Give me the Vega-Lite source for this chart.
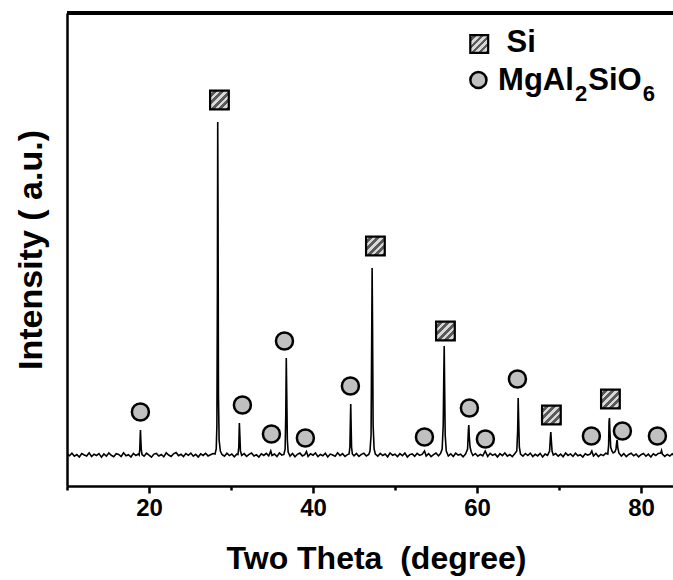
{
  "$schema": "https://vega.github.io/schema/vega-lite/v6.json",
  "width": 606,
  "height": 473,
  "autosize": "none",
  "padding": {"left": 67, "top": 13, "right": 0, "bottom": 94},
  "background": "white",
  "config": {"view": {"stroke": null}, "font": "Liberation Sans"},
  "datasets": {
    "pattern": [
      {"theta": 10.0, "intensity": 10}, {"theta": 10.3, "intensity": -8}, {"theta": 10.6, "intensity": 18}, {"theta": 10.9, "intensity": -12},
      {"theta": 11.2, "intensity": 4}, {"theta": 11.5, "intensity": -20}, {"theta": 11.8, "intensity": 15}, {"theta": 12.1, "intensity": 0},
      {"theta": 12.4, "intensity": -10}, {"theta": 12.7, "intensity": 22}, {"theta": 13.0, "intensity": -15}, {"theta": 13.3, "intensity": 8},
      {"theta": 13.6, "intensity": -5}, {"theta": 13.9, "intensity": 14}, {"theta": 14.2, "intensity": -22}, {"theta": 14.5, "intensity": 10},
      {"theta": 14.8, "intensity": -12}, {"theta": 15.1, "intensity": 20}, {"theta": 15.4, "intensity": -3}, {"theta": 15.7, "intensity": -18},
      {"theta": 16.0, "intensity": 13}, {"theta": 16.3, "intensity": 5}, {"theta": 16.6, "intensity": -15}, {"theta": 16.9, "intensity": 22},
      {"theta": 17.2, "intensity": -8}, {"theta": 17.5, "intensity": 3}, {"theta": 17.8, "intensity": -20}, {"theta": 18.1, "intensity": 16},
      {"theta": 18.4, "intensity": -5}, {"theta": 18.7, "intensity": 10},
      {"theta": 18.8, "intensity": 0}, {"theta": 18.88, "intensity": 60}, {"theta": 18.93, "intensity": 200}, {"theta": 18.96, "intensity": 250},
      {"theta": 19.0, "intensity": 160}, {"theta": 19.06, "intensity": 50}, {"theta": 19.15, "intensity": 5},
      {"theta": 19.4, "intensity": -12}, {"theta": 19.7, "intensity": 18}, {"theta": 20.0, "intensity": -2}, {"theta": 20.3, "intensity": -22},
      {"theta": 20.6, "intensity": 9}, {"theta": 20.9, "intensity": 16}, {"theta": 21.2, "intensity": -10}, {"theta": 21.5, "intensity": 5},
      {"theta": 21.8, "intensity": -18}, {"theta": 22.1, "intensity": 22}, {"theta": 22.4, "intensity": 0}, {"theta": 22.7, "intensity": -14},
      {"theta": 23.0, "intensity": 12}, {"theta": 23.3, "intensity": 25}, {"theta": 23.6, "intensity": -6}, {"theta": 23.9, "intensity": 8},
      {"theta": 24.2, "intensity": -16}, {"theta": 24.5, "intensity": 14}, {"theta": 24.8, "intensity": -3}, {"theta": 25.1, "intensity": 19},
      {"theta": 25.4, "intensity": -12}, {"theta": 25.7, "intensity": 6}, {"theta": 26.0, "intensity": -20}, {"theta": 26.3, "intensity": 11},
      {"theta": 26.6, "intensity": -4}, {"theta": 26.9, "intensity": 17}, {"theta": 27.2, "intensity": -9}, {"theta": 27.5, "intensity": 3},
      {"theta": 27.8, "intensity": 15},
      {"theta": 28.05, "intensity": 10}, {"theta": 28.2, "intensity": 60}, {"theta": 28.28, "intensity": 300}, {"theta": 28.34, "intensity": 1600},
      {"theta": 28.38, "intensity": 3330}, {"theta": 28.42, "intensity": 2400}, {"theta": 28.47, "intensity": 600}, {"theta": 28.55, "intensity": 150},
      {"theta": 28.7, "intensity": 40}, {"theta": 28.9, "intensity": 5},
      {"theta": 29.2, "intensity": -12}, {"theta": 29.5, "intensity": 18}, {"theta": 29.8, "intensity": -6}, {"theta": 30.1, "intensity": 10},
      {"theta": 30.4, "intensity": -18}, {"theta": 30.7, "intensity": 8},
      {"theta": 30.85, "intensity": 5}, {"theta": 30.95, "intensity": 80}, {"theta": 31.02, "intensity": 320}, {"theta": 31.08, "intensity": 200},
      {"theta": 31.15, "intensity": 40}, {"theta": 31.3, "intensity": -5},
      {"theta": 31.6, "intensity": 14}, {"theta": 31.9, "intensity": -14}, {"theta": 32.2, "intensity": 6}, {"theta": 32.5, "intensity": 20},
      {"theta": 32.8, "intensity": -10}, {"theta": 33.1, "intensity": 2}, {"theta": 33.4, "intensity": -20}, {"theta": 33.7, "intensity": 12},
      {"theta": 34.0, "intensity": -4}, {"theta": 34.3, "intensity": 16}, {"theta": 34.6, "intensity": -8}, {"theta": 34.85, "intensity": 40},
      {"theta": 35.0, "intensity": -5}, {"theta": 35.3, "intensity": 10}, {"theta": 35.6, "intensity": -16}, {"theta": 35.9, "intensity": 20},
      {"theta": 36.2, "intensity": -2}, {"theta": 36.45, "intensity": 5},
      {"theta": 36.6, "intensity": 60}, {"theta": 36.68, "intensity": 400}, {"theta": 36.74, "intensity": 970}, {"theta": 36.8, "intensity": 600},
      {"theta": 36.87, "intensity": 150}, {"theta": 36.97, "intensity": 30},
      {"theta": 37.2, "intensity": -10}, {"theta": 37.5, "intensity": 15}, {"theta": 37.8, "intensity": -18}, {"theta": 38.1, "intensity": 7},
      {"theta": 38.4, "intensity": 19}, {"theta": 38.7, "intensity": -9}, {"theta": 39.0, "intensity": 3}, {"theta": 39.2, "intensity": 35},
      {"theta": 39.4, "intensity": -14}, {"theta": 39.7, "intensity": 12}, {"theta": 40.0, "intensity": -2}, {"theta": 40.3, "intensity": 20},
      {"theta": 40.6, "intensity": -16}, {"theta": 40.9, "intensity": 5}, {"theta": 41.2, "intensity": -8}, {"theta": 41.5, "intensity": 17},
      {"theta": 41.8, "intensity": -20}, {"theta": 42.1, "intensity": 9}, {"theta": 42.4, "intensity": 0}, {"theta": 42.7, "intensity": -12},
      {"theta": 43.0, "intensity": 22}, {"theta": 43.3, "intensity": -6}, {"theta": 43.6, "intensity": 13}, {"theta": 43.9, "intensity": -15},
      {"theta": 44.2, "intensity": 4}, {"theta": 44.4, "intensity": 10},
      {"theta": 44.5, "intensity": 80}, {"theta": 44.56, "intensity": 350}, {"theta": 44.6, "intensity": 510}, {"theta": 44.64, "intensity": 330},
      {"theta": 44.7, "intensity": 80}, {"theta": 44.8, "intensity": 10},
      {"theta": 45.0, "intensity": -8}, {"theta": 45.3, "intensity": 15}, {"theta": 45.6, "intensity": -14}, {"theta": 45.9, "intensity": 6},
      {"theta": 46.2, "intensity": 18}, {"theta": 46.5, "intensity": -10}, {"theta": 46.8, "intensity": 5},
      {"theta": 46.95, "intensity": 40}, {"theta": 47.08, "intensity": 200}, {"theta": 47.16, "intensity": 1200}, {"theta": 47.21, "intensity": 1870},
      {"theta": 47.26, "intensity": 1300}, {"theta": 47.33, "intensity": 300}, {"theta": 47.45, "intensity": 60}, {"theta": 47.6, "intensity": 10},
      {"theta": 47.9, "intensity": -12}, {"theta": 48.2, "intensity": 16}, {"theta": 48.5, "intensity": -5}, {"theta": 48.8, "intensity": 10},
      {"theta": 49.1, "intensity": -18}, {"theta": 49.4, "intensity": 21}, {"theta": 49.7, "intensity": -3}, {"theta": 50.0, "intensity": 8},
      {"theta": 50.3, "intensity": -15}, {"theta": 50.6, "intensity": 13}, {"theta": 50.9, "intensity": -7}, {"theta": 51.2, "intensity": 19},
      {"theta": 51.5, "intensity": -20}, {"theta": 51.8, "intensity": 4}, {"theta": 52.1, "intensity": 11}, {"theta": 52.4, "intensity": -13},
      {"theta": 52.7, "intensity": 17}, {"theta": 53.0, "intensity": -4}, {"theta": 53.3, "intensity": 6}, {"theta": 53.6, "intensity": 40},
      {"theta": 53.8, "intensity": -10}, {"theta": 54.1, "intensity": 14}, {"theta": 54.4, "intensity": -16}, {"theta": 54.7, "intensity": 3},
      {"theta": 55.0, "intensity": 20}, {"theta": 55.3, "intensity": -8}, {"theta": 55.55, "intensity": 15},
      {"theta": 55.75, "intensity": 60}, {"theta": 55.88, "intensity": 300}, {"theta": 55.95, "intensity": 800}, {"theta": 56.0, "intensity": 1090},
      {"theta": 56.05, "intensity": 700}, {"theta": 56.12, "intensity": 200}, {"theta": 56.25, "intensity": 40},
      {"theta": 56.5, "intensity": -10}, {"theta": 56.8, "intensity": 12}, {"theta": 57.1, "intensity": -15}, {"theta": 57.4, "intensity": 18},
      {"theta": 57.7, "intensity": -2}, {"theta": 58.0, "intensity": 7}, {"theta": 58.3, "intensity": -18}, {"theta": 58.6, "intensity": 10},
      {"theta": 58.85, "intensity": 60}, {"theta": 58.95, "intensity": 250}, {"theta": 59.0, "intensity": 300}, {"theta": 59.06, "intensity": 180},
      {"theta": 59.15, "intensity": 80}, {"theta": 59.3, "intensity": 30},
      {"theta": 59.5, "intensity": -5}, {"theta": 59.8, "intensity": 15}, {"theta": 60.1, "intensity": -12}, {"theta": 60.4, "intensity": 6},
      {"theta": 60.7, "intensity": -8}, {"theta": 61.0, "intensity": 40}, {"theta": 61.3, "intensity": -14}, {"theta": 61.6, "intensity": 17},
      {"theta": 61.9, "intensity": -4}, {"theta": 62.2, "intensity": 9}, {"theta": 62.5, "intensity": -19}, {"theta": 62.8, "intensity": 13},
      {"theta": 63.1, "intensity": -6}, {"theta": 63.4, "intensity": 20}, {"theta": 63.7, "intensity": -11}, {"theta": 64.0, "intensity": 5},
      {"theta": 64.3, "intensity": -16}, {"theta": 64.6, "intensity": 12},
      {"theta": 64.85, "intensity": 40}, {"theta": 64.96, "intensity": 250}, {"theta": 65.02, "intensity": 570}, {"theta": 65.08, "intensity": 350},
      {"theta": 65.16, "intensity": 80}, {"theta": 65.3, "intensity": 10},
      {"theta": 65.6, "intensity": -12}, {"theta": 65.9, "intensity": 15}, {"theta": 66.2, "intensity": -5}, {"theta": 66.5, "intensity": 19},
      {"theta": 66.8, "intensity": -15}, {"theta": 67.1, "intensity": 7}, {"theta": 67.4, "intensity": -9}, {"theta": 67.7, "intensity": 16},
      {"theta": 68.0, "intensity": -20}, {"theta": 68.3, "intensity": 10}, {"theta": 68.6, "intensity": -3},
      {"theta": 68.85, "intensity": 40}, {"theta": 68.95, "intensity": 180}, {"theta": 69.0, "intensity": 230}, {"theta": 69.06, "intensity": 150},
      {"theta": 69.15, "intensity": 40}, {"theta": 69.3, "intensity": 0},
      {"theta": 69.6, "intensity": 14}, {"theta": 69.9, "intensity": -12}, {"theta": 70.2, "intensity": 8}, {"theta": 70.5, "intensity": -18},
      {"theta": 70.8, "intensity": 20}, {"theta": 71.1, "intensity": -4}, {"theta": 71.4, "intensity": 11}, {"theta": 71.7, "intensity": -14},
      {"theta": 72.0, "intensity": 17}, {"theta": 72.3, "intensity": -8}, {"theta": 72.6, "intensity": 3}, {"theta": 72.9, "intensity": -20},
      {"theta": 73.2, "intensity": 13}, {"theta": 73.5, "intensity": -2}, {"theta": 73.8, "intensity": 9}, {"theta": 74.0, "intensity": 40},
      {"theta": 74.2, "intensity": -10}, {"theta": 74.5, "intensity": 16}, {"theta": 74.8, "intensity": -15}, {"theta": 75.1, "intensity": 6},
      {"theta": 75.4, "intensity": -6}, {"theta": 75.7, "intensity": 18}, {"theta": 75.95, "intensity": 10},
      {"theta": 76.05, "intensity": 100}, {"theta": 76.1, "intensity": 330}, {"theta": 76.15, "intensity": 370}, {"theta": 76.2, "intensity": 250},
      {"theta": 76.3, "intensity": 80}, {"theta": 76.45, "intensity": 40}, {"theta": 76.6, "intensity": 20}, {"theta": 76.8, "intensity": 30},
      {"theta": 76.95, "intensity": 60}, {"theta": 77.05, "intensity": 140}, {"theta": 77.1, "intensity": 150}, {"theta": 77.15, "intensity": 80},
      {"theta": 77.3, "intensity": 20},
      {"theta": 77.6, "intensity": -10}, {"theta": 77.9, "intensity": 14}, {"theta": 78.2, "intensity": -16}, {"theta": 78.5, "intensity": 5},
      {"theta": 78.8, "intensity": 18}, {"theta": 79.1, "intensity": -8}, {"theta": 79.4, "intensity": 10}, {"theta": 79.7, "intensity": -18},
      {"theta": 80.0, "intensity": 3}, {"theta": 80.3, "intensity": 15}, {"theta": 80.6, "intensity": -12}, {"theta": 80.9, "intensity": 8},
      {"theta": 81.2, "intensity": -20}, {"theta": 81.5, "intensity": 12}, {"theta": 81.8, "intensity": -5}, {"theta": 82.1, "intensity": 16},
      {"theta": 82.4, "intensity": 20}, {"theta": 82.5, "intensity": 45}, {"theta": 82.6, "intensity": 10}, {"theta": 82.9, "intensity": -14},
      {"theta": 83.2, "intensity": 6}, {"theta": 83.5, "intensity": -10}, {"theta": 83.8, "intensity": 12}, {"theta": 84.0, "intensity": -5}
    ],
    "markers": [
      {"theta": 28.59, "intensity": 3550, "phase": "Si"},
      {"theta": 47.61, "intensity": 2090, "phase": "Si"},
      {"theta": 56.15, "intensity": 1240, "phase": "Si"},
      {"theta": 69.07, "intensity": 400, "phase": "Si"},
      {"theta": 76.27, "intensity": 560, "phase": "Si"},
      {"theta": 18.95, "intensity": 430, "phase": "MgAl2SiO6"},
      {"theta": 31.39, "intensity": 500, "phase": "MgAl2SiO6"},
      {"theta": 34.93, "intensity": 210, "phase": "MgAl2SiO6"},
      {"theta": 36.52, "intensity": 1140, "phase": "MgAl2SiO6"},
      {"theta": 39.07, "intensity": 170, "phase": "MgAl2SiO6"},
      {"theta": 44.56, "intensity": 690, "phase": "MgAl2SiO6"},
      {"theta": 53.59, "intensity": 180, "phase": "MgAl2SiO6"},
      {"theta": 59.07, "intensity": 470, "phase": "MgAl2SiO6"},
      {"theta": 61.02, "intensity": 160, "phase": "MgAl2SiO6"},
      {"theta": 64.93, "intensity": 760, "phase": "MgAl2SiO6"},
      {"theta": 73.95, "intensity": 190, "phase": "MgAl2SiO6"},
      {"theta": 77.73, "intensity": 240, "phase": "MgAl2SiO6"},
      {"theta": 82.0, "intensity": 190, "phase": "MgAl2SiO6"}
    ],
    "legend": [
      {"theta": 60.27, "intensity": 4110, "phase": "Si"},
      {"theta": 60.17, "intensity": 3750, "phase": "MgAl2SiO6"}
    ],
    "legendText": [
      {"theta": 63.6, "intensity": 4120, "text": "Si", "part": "main"},
      {"theta": 62.57, "intensity": 3740, "text": "MgAl", "part": "main"},
      {"theta": 71.96, "intensity": 3610, "text": "2", "part": "sub"},
      {"theta": 73.57, "intensity": 3740, "text": "SiO", "part": "main"},
      {"theta": 80.22, "intensity": 3610, "text": "6", "part": "sub"}
    ]
  },
  "layer": [
    {
      "data": {"name": "pattern"},
      "mark": {"type": "line", "color": "black", "strokeWidth": 1.6, "clip": true},
      "encoding": {
        "x": {
          "field": "theta", "type": "quantitative",
          "scale": {"domain": [10, 83.9], "nice": false, "zero": false},
          "axis": {
            "values": [20, 40, 60, 80], "grid": false,
            "domainColor": "black", "domainWidth": 2.5,
            "tickColor": "black", "tickWidth": 2.5, "tickSize": 7,
            "labelFont": "Liberation Sans", "labelFontSize": 24, "labelFontWeight": "bold", "labelColor": "black", "labelPadding": 3,
            "title": "Two Theta \u00a0(degree)", "titleFont": "Liberation Sans", "titleFontSize": 32, "titleFontWeight": "bold", "titleColor": "black",
            "titleX": 309, "titleY": 82, "titleBaseline": "alphabetic"
          }
        },
        "y": {
          "field": "intensity", "type": "quantitative",
          "scale": {"domain": [-310, 4420], "nice": false, "zero": false},
          "axis": {
            "ticks": false, "labels": false, "grid": false,
            "domainColor": "black", "domainWidth": 2.5,
            "title": "Intensity ( a.u.)", "titleFont": "Liberation Sans", "titleFontSize": 34, "titleFontWeight": "bold", "titleColor": "black",
            "titleX": -26, "titleBaseline": "alphabetic"
          }
        }
      }
    },
    {
      "data": {"name": "pattern"},
      "mark": {"type": "rule", "color": "black", "strokeWidth": 2.5},
      "encoding": {"y": {"datum": 4420}}
    },
    {
      "data": {"name": "markers"},
      "transform": [{"filter": "datum.phase === 'Si'"}],
      "mark": {
        "type": "point", "shape": "square", "size": 350, "filled": true, "opacity": 1,
        "fill": {"gradient": "linear", "x1": 0, "y1": 0, "x2": 1, "y2": 1, "stops": [
          {"offset": 0, "color": "#d8d8d8"}, {"offset": 0.1, "color": "#d8d8d8"},
          {"offset": 0.1, "color": "#5a5a5a"}, {"offset": 0.2, "color": "#5a5a5a"},
          {"offset": 0.2, "color": "#d8d8d8"}, {"offset": 0.3, "color": "#d8d8d8"},
          {"offset": 0.3, "color": "#5a5a5a"}, {"offset": 0.4, "color": "#5a5a5a"},
          {"offset": 0.4, "color": "#d8d8d8"}, {"offset": 0.5, "color": "#d8d8d8"},
          {"offset": 0.5, "color": "#5a5a5a"}, {"offset": 0.6, "color": "#5a5a5a"},
          {"offset": 0.6, "color": "#d8d8d8"}, {"offset": 0.7, "color": "#d8d8d8"},
          {"offset": 0.7, "color": "#5a5a5a"}, {"offset": 0.8, "color": "#5a5a5a"},
          {"offset": 0.8, "color": "#d8d8d8"}, {"offset": 0.9, "color": "#d8d8d8"},
          {"offset": 0.9, "color": "#5a5a5a"}, {"offset": 1, "color": "#5a5a5a"}
        ]},
        "stroke": "black", "strokeWidth": 2.2
      },
      "encoding": {
        "x": {
          "field": "theta", "type": "quantitative",
          "axis": {
            "values": [10, 30, 50, 70], "orient": "bottom", "labels": false, "domain": false, "grid": false,
            "tickColor": "black", "tickWidth": 2.5, "tickSize": 4, "title": null
          }
        },
        "y": {"field": "intensity", "type": "quantitative"}
      }
    },
    {
      "data": {"name": "markers"},
      "transform": [{"filter": "datum.phase === 'MgAl2SiO6'"}],
      "mark": {"type": "point", "shape": "circle", "size": 290, "filled": true, "opacity": 1, "fill": "#c0c0c0", "stroke": "black", "strokeWidth": 2.5},
      "encoding": {
        "x": {"field": "theta", "type": "quantitative", "axis": null},
        "y": {"field": "intensity", "type": "quantitative"}
      }
    },
    {
      "data": {"name": "legend"},
      "transform": [{"filter": "datum.phase === 'Si'"}],
      "mark": {
        "type": "point", "shape": "square", "size": 320, "filled": true, "opacity": 1,
        "fill": {"gradient": "linear", "x1": 0, "y1": 0, "x2": 1, "y2": 1, "stops": [
          {"offset": 0, "color": "#d8d8d8"}, {"offset": 0.1, "color": "#d8d8d8"},
          {"offset": 0.1, "color": "#5a5a5a"}, {"offset": 0.2, "color": "#5a5a5a"},
          {"offset": 0.2, "color": "#d8d8d8"}, {"offset": 0.3, "color": "#d8d8d8"},
          {"offset": 0.3, "color": "#5a5a5a"}, {"offset": 0.4, "color": "#5a5a5a"},
          {"offset": 0.4, "color": "#d8d8d8"}, {"offset": 0.5, "color": "#d8d8d8"},
          {"offset": 0.5, "color": "#5a5a5a"}, {"offset": 0.6, "color": "#5a5a5a"},
          {"offset": 0.6, "color": "#d8d8d8"}, {"offset": 0.7, "color": "#d8d8d8"},
          {"offset": 0.7, "color": "#5a5a5a"}, {"offset": 0.8, "color": "#5a5a5a"},
          {"offset": 0.8, "color": "#d8d8d8"}, {"offset": 0.9, "color": "#d8d8d8"},
          {"offset": 0.9, "color": "#5a5a5a"}, {"offset": 1, "color": "#5a5a5a"}
        ]},
        "stroke": "black", "strokeWidth": 2.2
      },
      "encoding": {
        "x": {"field": "theta", "type": "quantitative", "axis": null},
        "y": {"field": "intensity", "type": "quantitative"}
      }
    },
    {
      "data": {"name": "legend"},
      "transform": [{"filter": "datum.phase === 'MgAl2SiO6'"}],
      "mark": {"type": "point", "shape": "circle", "size": 260, "filled": true, "opacity": 1, "fill": "#c0c0c0", "stroke": "black", "strokeWidth": 2.5},
      "encoding": {
        "x": {"field": "theta", "type": "quantitative", "axis": null},
        "y": {"field": "intensity", "type": "quantitative"}
      }
    },
    {
      "data": {"name": "legendText"},
      "transform": [{"filter": "datum.part === 'main'"}],
      "mark": {"type": "text", "align": "left", "baseline": "middle", "font": "Liberation Sans", "fontSize": 31, "fontWeight": "bold", "color": "black"},
      "encoding": {
        "x": {"field": "theta", "type": "quantitative", "axis": null},
        "y": {"field": "intensity", "type": "quantitative"},
        "text": {"field": "text"}
      }
    },
    {
      "data": {"name": "legendText"},
      "transform": [{"filter": "datum.part === 'sub'"}],
      "mark": {"type": "text", "align": "left", "baseline": "middle", "font": "Liberation Sans", "fontSize": 22, "fontWeight": "bold", "color": "black"},
      "encoding": {
        "x": {"field": "theta", "type": "quantitative", "axis": null},
        "y": {"field": "intensity", "type": "quantitative"},
        "text": {"field": "text"}
      }
    }
  ],
  "resolve": {"axis": {"x": "independent"}}
}
